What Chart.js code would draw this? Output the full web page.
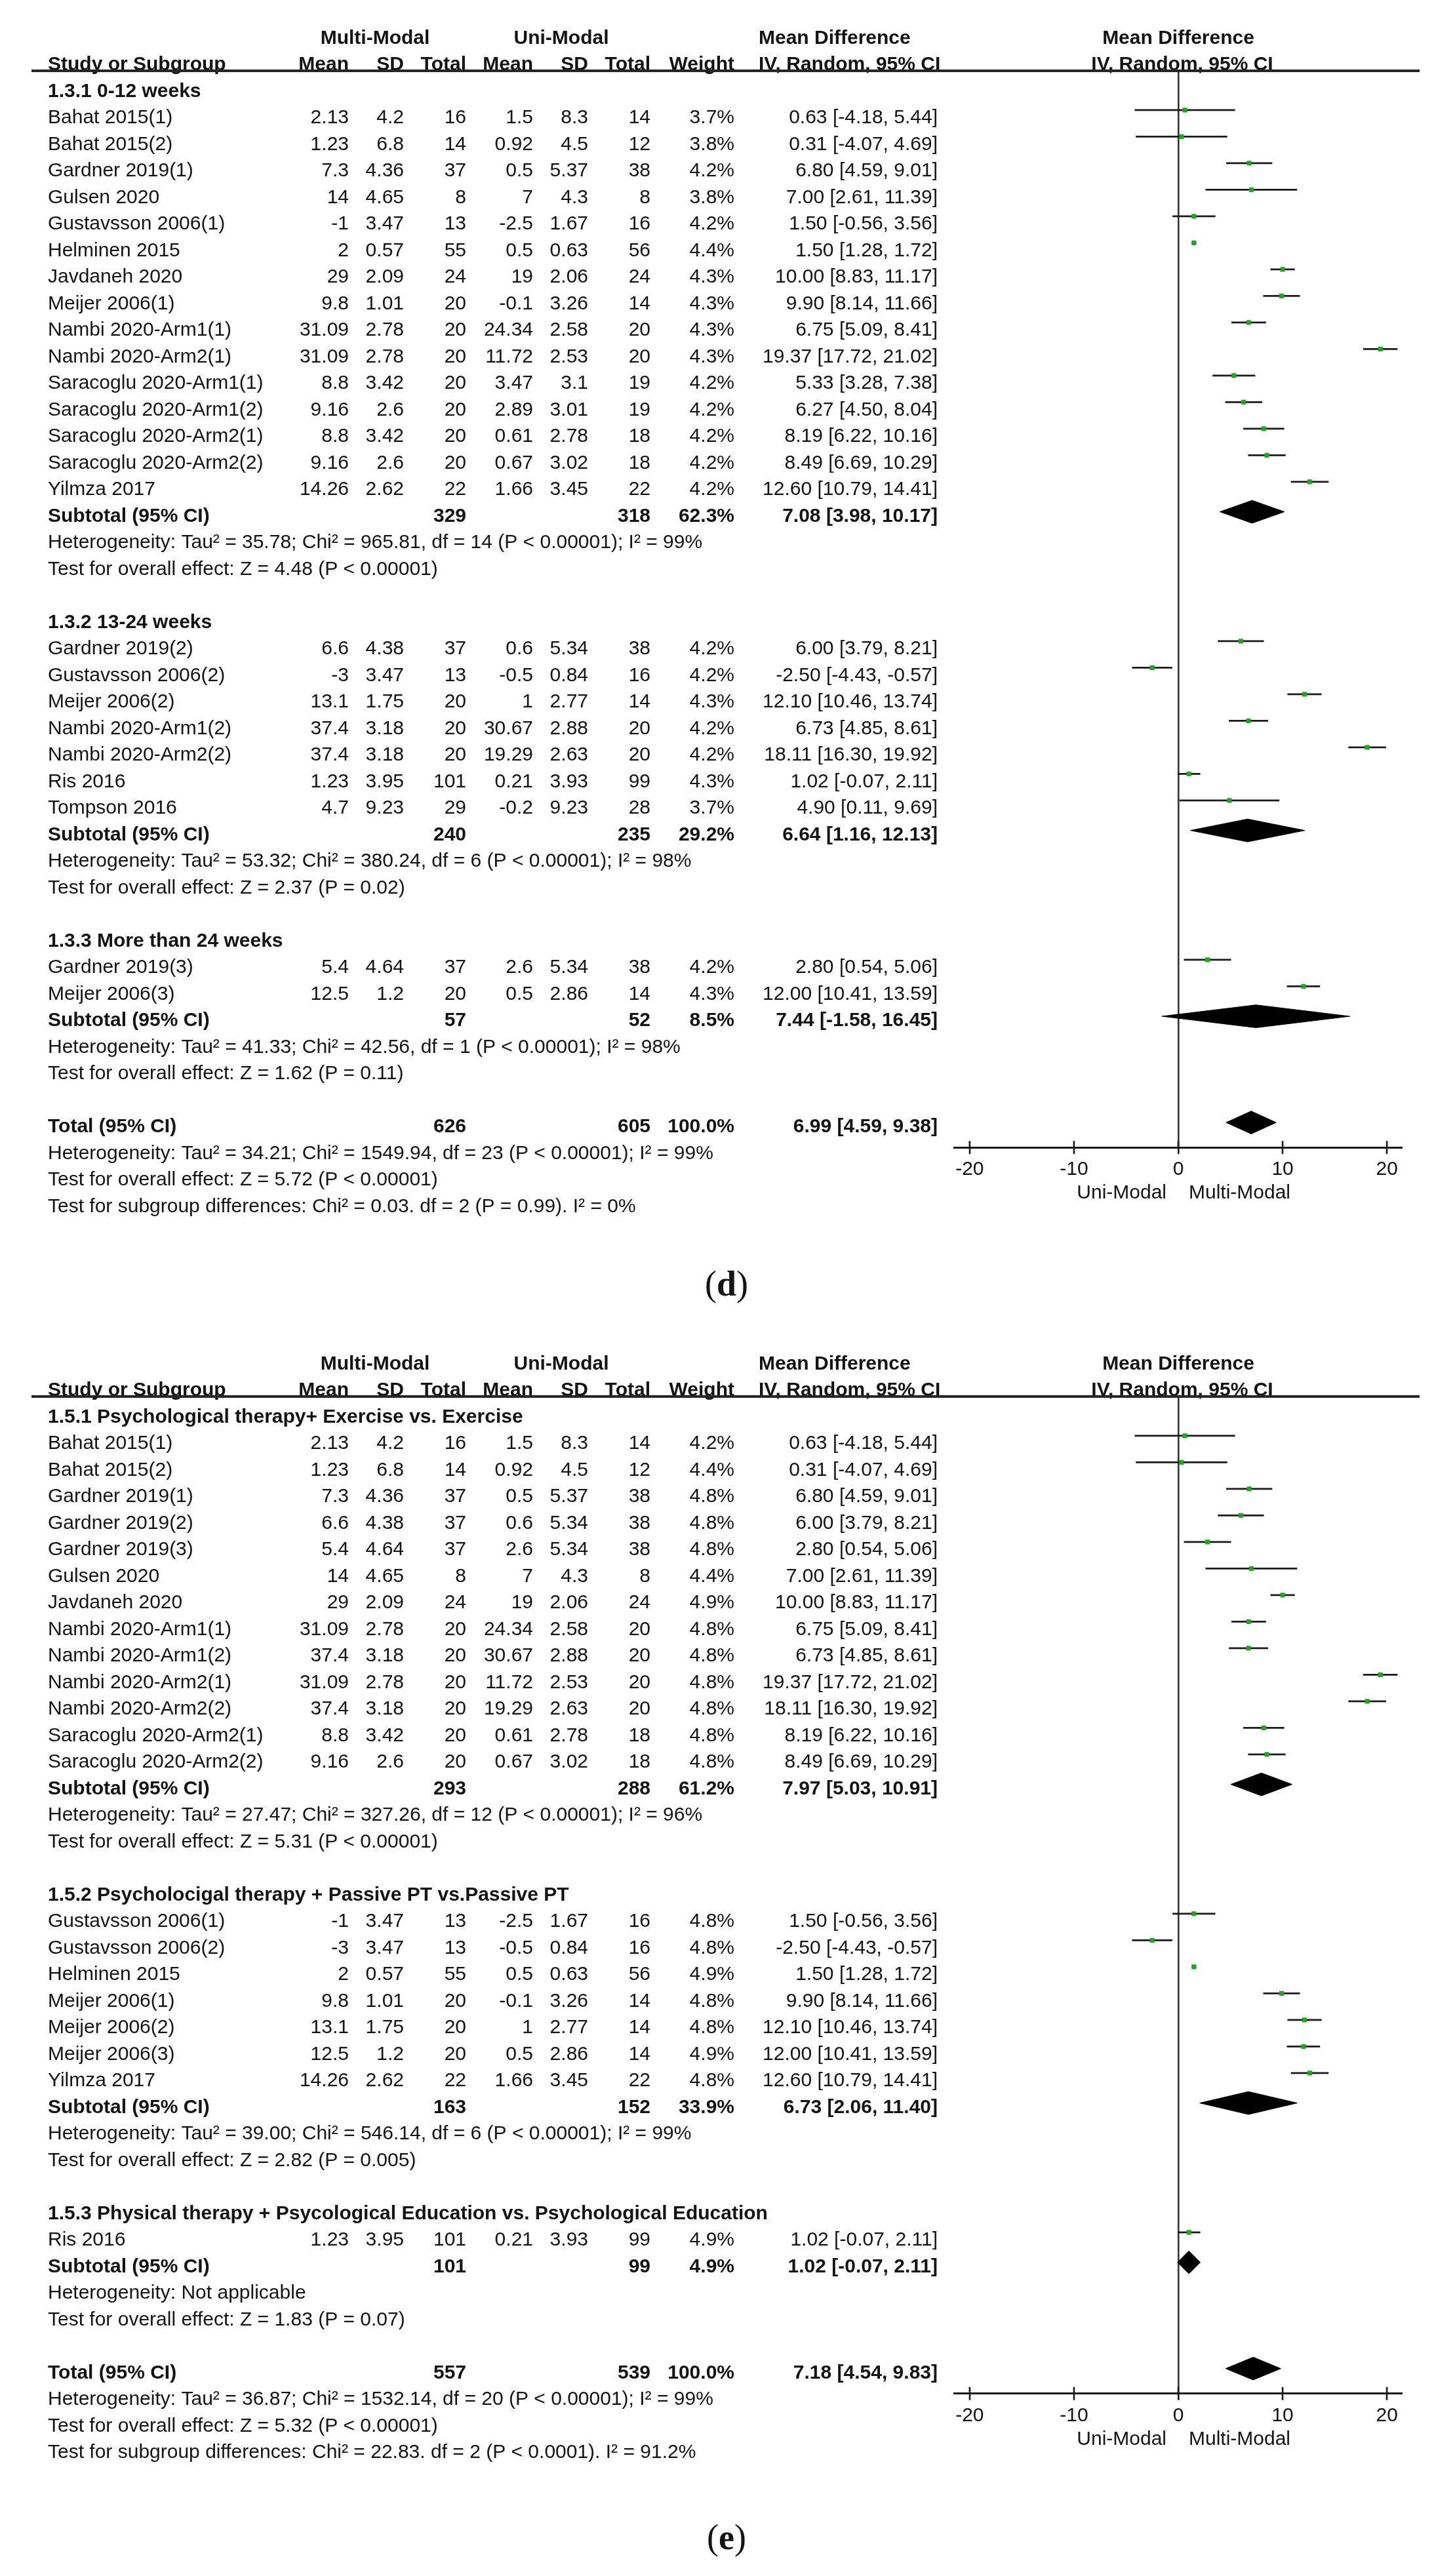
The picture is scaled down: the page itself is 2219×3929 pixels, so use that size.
<!DOCTYPE html>
<html><head><meta charset="utf-8">
<script src="https://cdn.jsdelivr.net/npm/chart.js@4/dist/chart.umd.min.js"></script>
<style>
html,body{margin:0;padding:0;background:#fff;overflow:hidden;}
#wrap{position:relative;width:2219px;height:3929px;background:#fff;}
canvas{position:absolute;left:0;top:0;}
</style></head><body>
<div id="wrap">
<div style="position:absolute;left:0;top:0;width:2219px;height:2022px"><canvas id="cD" width="2219" height="2022"></canvas></div>
<div style="position:absolute;left:0;top:2022px;width:2219px;height:1907px"><canvas id="cE" width="2219" height="1907"></canvas></div>
</div>
<script>
// ---------------- Panel (d) ----------------
const dGroupTitles = ["1.3.1 0-12 weeks", "1.3.2 13-24 weeks", "1.3.3 More than 24 weeks"];
const dGroupCounts = [15, 7, 2];
const dStudies = ["Bahat 2015(1)","Bahat 2015(2)","Gardner 2019(1)","Gulsen 2020","Gustavsson 2006(1)","Helminen 2015","Javdaneh 2020","Meijer 2006(1)","Nambi 2020-Arm1(1)","Nambi 2020-Arm2(1)","Saracoglu 2020-Arm1(1)","Saracoglu 2020-Arm1(2)","Saracoglu 2020-Arm2(1)","Saracoglu 2020-Arm2(2)","Yilmza 2017",
  "Gardner 2019(2)","Gustavsson 2006(2)","Meijer 2006(2)","Nambi 2020-Arm1(2)","Nambi 2020-Arm2(2)","Ris 2016","Tompson 2016",
  "Gardner 2019(3)","Meijer 2006(3)"];
const dMeanMulti = [2.13,1.23,7.3,14,-1,2,29,9.8,31.09,31.09,8.8,9.16,8.8,9.16,14.26, 6.6,-3,13.1,37.4,37.4,1.23,4.7, 5.4,12.5];
const dSdMulti = [4.2,6.8,4.36,4.65,3.47,0.57,2.09,1.01,2.78,2.78,3.42,2.6,3.42,2.6,2.62, 4.38,3.47,1.75,3.18,3.18,3.95,9.23, 4.64,1.2];
const dNMulti = [16,14,37,8,13,55,24,20,20,20,20,20,20,20,22, 37,13,20,20,20,101,29, 37,20];
const dMeanUni = [1.5,0.92,0.5,7,-2.5,0.5,19,-0.1,24.34,11.72,3.47,2.89,0.61,0.67,1.66, 0.6,-0.5,1,30.67,19.29,0.21,-0.2, 2.6,0.5];
const dSdUni = [8.3,4.5,5.37,4.3,1.67,0.63,2.06,3.26,2.58,2.53,3.1,3.01,2.78,3.02,3.45, 5.34,0.84,2.77,2.88,2.63,3.93,9.23, 5.34,2.86];
const dNUni = [14,12,38,8,16,56,24,14,20,20,19,19,18,18,22, 38,16,14,20,20,99,28, 38,14];
const dWeight = [3.7,3.8,4.2,3.8,4.2,4.4,4.3,4.3,4.3,4.3,4.2,4.2,4.2,4.2,4.2, 4.2,4.2,4.3,4.2,4.2,4.3,3.7, 4.2,4.3];
const dMD = [0.63,0.31,6.80,7.00,1.50,1.50,10.00,9.90,6.75,19.37,5.33,6.27,8.19,8.49,12.60, 6.00,-2.50,12.10,6.73,18.11,1.02,4.90, 2.80,12.00];
const dLo = [-4.18,-4.07,4.59,2.61,-0.56,1.28,8.83,8.14,5.09,17.72,3.28,4.50,6.22,6.69,10.79, 3.79,-4.43,10.46,4.85,16.30,-0.07,0.11, 0.54,10.41];
const dHi = [5.44,4.69,9.01,11.39,3.56,1.72,11.17,11.66,8.41,21.02,7.38,8.04,10.16,10.29,14.41, 8.21,-0.57,13.74,8.61,19.92,2.11,9.69, 5.06,13.59];
const dSubNMulti = [329, 240, 57];
const dSubNUni = [318, 235, 52];
const dSubWeight = [62.3, 29.2, 8.5];
const dSubMD = [7.08, 6.64, 7.44];
const dSubLo = [3.98, 1.16, -1.58];
const dSubHi = [10.17, 12.13, 16.45];
const dHet = ["Heterogeneity: Tau² = 35.78; Chi² = 965.81, df = 14 (P < 0.00001); I² = 99%",
  "Heterogeneity: Tau² = 53.32; Chi² = 380.24, df = 6 (P < 0.00001); I² = 98%",
  "Heterogeneity: Tau² = 41.33; Chi² = 42.56, df = 1 (P < 0.00001); I² = 98%"];
const dEffect = ["Test for overall effect: Z = 4.48 (P < 0.00001)",
  "Test for overall effect: Z = 2.37 (P = 0.02)",
  "Test for overall effect: Z = 1.62 (P = 0.11)"];
const dTotalN = [626, 605];
const dTotalMD = [6.99, 4.59, 9.38];
const dFooter = ["Heterogeneity: Tau² = 34.21; Chi² = 1549.94, df = 23 (P < 0.00001); I² = 99%",
  "Test for overall effect: Z = 5.72 (P < 0.00001)",
  "Test for subgroup differences: Chi² = 0.03. df = 2 (P = 0.99). I² = 0%"];

// ---------------- Panel (e) ----------------
const eGroupTitles = ["1.5.1 Psychological therapy+ Exercise vs. Exercise",
  "1.5.2 Psycholocigal therapy + Passive PT vs.Passive PT",
  "1.5.3 Physical therapy + Psycological Education vs. Psychological Education"];
const eGroupCounts = [13, 7, 1];
const eStudies = ["Bahat 2015(1)","Bahat 2015(2)","Gardner 2019(1)","Gardner 2019(2)","Gardner 2019(3)","Gulsen 2020","Javdaneh 2020","Nambi 2020-Arm1(1)","Nambi 2020-Arm1(2)","Nambi 2020-Arm2(1)","Nambi 2020-Arm2(2)","Saracoglu 2020-Arm2(1)","Saracoglu 2020-Arm2(2)",
  "Gustavsson 2006(1)","Gustavsson 2006(2)","Helminen 2015","Meijer 2006(1)","Meijer 2006(2)","Meijer 2006(3)","Yilmza 2017",
  "Ris 2016"];
const eMeanMulti = [2.13,1.23,7.3,6.6,5.4,14,29,31.09,37.4,31.09,37.4,8.8,9.16, -1,-3,2,9.8,13.1,12.5,14.26, 1.23];
const eSdMulti = [4.2,6.8,4.36,4.38,4.64,4.65,2.09,2.78,3.18,2.78,3.18,3.42,2.6, 3.47,3.47,0.57,1.01,1.75,1.2,2.62, 3.95];
const eNMulti = [16,14,37,37,37,8,24,20,20,20,20,20,20, 13,13,55,20,20,20,22, 101];
const eMeanUni = [1.5,0.92,0.5,0.6,2.6,7,19,24.34,30.67,11.72,19.29,0.61,0.67, -2.5,-0.5,0.5,-0.1,1,0.5,1.66, 0.21];
const eSdUni = [8.3,4.5,5.37,5.34,5.34,4.3,2.06,2.58,2.88,2.53,2.63,2.78,3.02, 1.67,0.84,0.63,3.26,2.77,2.86,3.45, 3.93];
const eNUni = [14,12,38,38,38,8,24,20,20,20,20,18,18, 16,16,56,14,14,14,22, 99];
const eWeight = [4.2,4.4,4.8,4.8,4.8,4.4,4.9,4.8,4.8,4.8,4.8,4.8,4.8, 4.8,4.8,4.9,4.8,4.8,4.9,4.8, 4.9];
const eMD = [0.63,0.31,6.80,6.00,2.80,7.00,10.00,6.75,6.73,19.37,18.11,8.19,8.49, 1.50,-2.50,1.50,9.90,12.10,12.00,12.60, 1.02];
const eLo = [-4.18,-4.07,4.59,3.79,0.54,2.61,8.83,5.09,4.85,17.72,16.30,6.22,6.69, -0.56,-4.43,1.28,8.14,10.46,10.41,10.79, -0.07];
const eHi = [5.44,4.69,9.01,8.21,5.06,11.39,11.17,8.41,8.61,21.02,19.92,10.16,10.29, 3.56,-0.57,1.72,11.66,13.74,13.59,14.41, 2.11];
const eSubNMulti = [293, 163, 101];
const eSubNUni = [288, 152, 99];
const eSubWeight = [61.2, 33.9, 4.9];
const eSubMD = [7.97, 6.73, 1.02];
const eSubLo = [5.03, 2.06, -0.07];
const eSubHi = [10.91, 11.40, 2.11];
const eHet = ["Heterogeneity: Tau² = 27.47; Chi² = 327.26, df = 12 (P < 0.00001); I² = 96%",
  "Heterogeneity: Tau² = 39.00; Chi² = 546.14, df = 6 (P < 0.00001); I² = 99%",
  "Heterogeneity: Not applicable"];
const eEffect = ["Test for overall effect: Z = 5.31 (P < 0.00001)",
  "Test for overall effect: Z = 2.82 (P = 0.005)",
  "Test for overall effect: Z = 1.83 (P = 0.07)"];
const eTotalN = [557, 539];
const eTotalMD = [7.18, 4.54, 9.83];
const eFooter = ["Heterogeneity: Tau² = 36.87; Chi² = 1532.14, df = 20 (P < 0.00001); I² = 99%",
  "Test for overall effect: Z = 5.32 (P < 0.00001)",
  "Test for subgroup differences: Chi² = 22.83. df = 2 (P < 0.0001). I² = 91.2%"];

// shared axis / header labels
const xTicks = [-20, -10, 0, 10, 20];
const favoursLeft = "Uni-Modal";
const favoursRight = "Multi-Modal";
const groupHeaders = ["Multi-Modal", "Uni-Modal"];
const colHeaders = ["Mean", "SD", "Total", "Mean", "SD", "Total", "Weight"];

// ---------------- layout / drawing ----------------
const ROW_PX = 40.5;
const FONT = '"Liberation Sans", Arial, sans-serif';
const TXT = '#141414';
const COLS = {name: 73, meanM: 532, sdM: 616, nM: 711, meanU: 813, sdU: 897, nU: 992, w: 1120, md: 1430, mdHead: 1157};

function fmtCI(m, lo, hi) { return m.toFixed(2) + ' [' + lo.toFixed(2) + ', ' + hi.toFixed(2) + ']'; }

function layoutRows(P) {
  const items = [];
  const studyRows = [], subRows = [];
  let r = 2, s = 0;
  P.groupTitles.forEach((t, g) => {
    items.push({row: r++, kind: 'title', text: t});
    for (let k = 0; k < P.groupCounts[g]; k++) { studyRows.push(r); items.push({row: r++, kind: 'study', i: s++}); }
    subRows.push(r); items.push({row: r++, kind: 'sub', g});
    items.push({row: r++, kind: 'note', text: P.het[g]});
    items.push({row: r++, kind: 'note', text: P.effect[g]});
    r++;
  });
  const totalRow = r;
  items.push({row: r++, kind: 'total'});
  P.footer.forEach(t => items.push({row: r++, kind: 'note', text: t}));
  return {items, studyRows, subRows, totalRow};
}

function buildPanel(canvasId, P, letter, letterY) {
  const canvas = document.getElementById(canvasId);
  const H = canvas.height;
  const L = layoutRows(P);
  const TOP = 108;
  const yMin = 3 - (180 - TOP) / ROW_PX;
  const yMax = L.totalRow + 0.77;
  const axisPx = TOP + (yMax - yMin) * ROW_PX;
  const MARK_OFF = 0.3, DIA_OFF = 0.17, DIA_H = 0.43;

  const ciData = [];
  P.md.forEach((m, i) => {
    const y = L.studyRows[i] - MARK_OFF;
    ciData.push({x: P.lo[i], y}, {x: P.hi[i], y}, {x: P.hi[i], y: null});
  });
  const markData = P.md.map((m, i) => ({x: m, y: L.studyRows[i] - MARK_OFF}));

  const datasets = [
    {type: 'line', data: ciData, borderColor: '#1a1a1a', borderWidth: 2.6, pointRadius: 0, fill: false, tension: 0, spanGaps: false, order: 3},
    {type: 'scatter', data: markData, pointStyle: 'rect', pointRadius: 5, backgroundColor: '#22a622', borderWidth: 0, order: 1}
  ];
  const diamond = (m, lo, hi, row) => {
    const y = row - DIA_OFF;
    datasets.push({type: 'line', data: [{x: lo, y}, {x: m, y: y - DIA_H}, {x: hi, y}, {x: m, y: y + DIA_H}, {x: lo, y}],
      fill: 'shape', backgroundColor: '#000', borderColor: '#000', borderWidth: 1, pointRadius: 0, tension: 0, order: 2});
  };
  P.subMD.forEach((m, g) => diamond(m, P.subLo[g], P.subHi[g], L.subRows[g]));
  diamond(P.totalMD[0], P.totalMD[1], P.totalMD[2], L.totalRow);

  const textPlugin = {
    id: 'forestText',
    afterDraw(chart) {
      const ctx = chart.ctx, ys = chart.scales.y, xs = chart.scales.x, ca = chart.chartArea;
      const Y = r => ys.getPixelForValue(r);
      const put = (t, x, y, align, bold) => {
        ctx.font = (bold ? 'bold ' : '') + '30px ' + FONT;
        ctx.textAlign = align; ctx.fillText(t, x, y);
      };
      ctx.save();
      ctx.fillStyle = TXT; ctx.textBaseline = 'middle';
      // header
      const y0 = Y(0), y1 = Y(1);
      put(groupHeaders[0], 572, y0, 'center', true);
      put(groupHeaders[1], 856, y0, 'center', true);
      put('Mean Difference', COLS.mdHead, y0, 'left', true);
      put('Mean Difference', 1797, y0, 'center', true);
      put('Study or Subgroup', COLS.name, y1, 'left', true);
      const hx = [COLS.meanM, COLS.sdM, COLS.nM, COLS.meanU, COLS.sdU, COLS.nU, COLS.w];
      colHeaders.forEach((h, k) => put(h, hx[k], y1, 'right', true));
      put('IV, Random, 95% CI', COLS.mdHead, y1, 'left', true);
      put('IV, Random, 95% CI', 1803, y1, 'center', true);
      // rows
      L.items.forEach(it => {
        const y = Y(it.row);
        if (it.kind === 'title') put(it.text, COLS.name, y, 'left', true);
        else if (it.kind === 'note') put(it.text, COLS.name, y, 'left', false);
        else if (it.kind === 'study') {
          const i = it.i;
          put(P.studies[i], COLS.name, y, 'left', false);
          put(String(P.meanM[i]), COLS.meanM, y, 'right', false);
          put(String(P.sdM[i]), COLS.sdM, y, 'right', false);
          put(String(P.nM[i]), COLS.nM, y, 'right', false);
          put(String(P.meanU[i]), COLS.meanU, y, 'right', false);
          put(String(P.sdU[i]), COLS.sdU, y, 'right', false);
          put(String(P.nU[i]), COLS.nU, y, 'right', false);
          put(P.weight[i].toFixed(1) + '%', COLS.w, y, 'right', false);
          put(fmtCI(P.md[i], P.lo[i], P.hi[i]), COLS.md, y, 'right', false);
        } else if (it.kind === 'sub') {
          const g = it.g;
          put('Subtotal (95% CI)', COLS.name, y, 'left', true);
          put(String(P.subNM[g]), COLS.nM, y, 'right', true);
          put(String(P.subNU[g]), COLS.nU, y, 'right', true);
          put(P.subW[g].toFixed(1) + '%', COLS.w, y, 'right', true);
          put(fmtCI(P.subMD[g], P.subLo[g], P.subHi[g]), COLS.md, y, 'right', true);
        } else if (it.kind === 'total') {
          put('Total (95% CI)', COLS.name, y, 'left', true);
          put(String(P.totalN[0]), COLS.nM, y, 'right', true);
          put(String(P.totalN[1]), COLS.nU, y, 'right', true);
          put('100.0%', COLS.w, y, 'right', true);
          put(fmtCI(P.totalMD[0], P.totalMD[1], P.totalMD[2]), COLS.md, y, 'right', true);
        }
      });
      // header rule
      ctx.strokeStyle = '#262626'; ctx.lineWidth = 4;
      ctx.beginPath(); ctx.moveTo(48, ca.top); ctx.lineTo(2165, ca.top); ctx.stroke();
      // upper halves of axis ticks
      ctx.lineWidth = 2.6; ctx.strokeStyle = '#1a1a1a';
      xs.ticks.forEach(t => { const px = xs.getPixelForValue(t.value); ctx.beginPath(); ctx.moveTo(px, ca.bottom - 10); ctx.lineTo(px, ca.bottom); ctx.stroke(); });
      // favours labels
      const x0 = xs.getPixelForValue(0);
      put(favoursLeft, x0 - 18, ca.bottom + 70, 'right', false);
      put(favoursRight, x0 + 16, ca.bottom + 70, 'left', false);
      // panel letter
      ctx.textAlign = 'left';
      ctx.font = '54px "Liberation Serif", "Times New Roman", serif';
      const wp = ctx.measureText('(').width, wq = ctx.measureText(')').width;
      ctx.font = 'bold 54px "Liberation Serif", "Times New Roman", serif';
      const wl = ctx.measureText(letter).width;
      let lx = 1108 - (wp + wl + wq) / 2;
      ctx.font = '54px "Liberation Serif", "Times New Roman", serif';
      ctx.fillText('(', lx, letterY); lx += wp;
      ctx.font = 'bold 54px "Liberation Serif", "Times New Roman", serif';
      ctx.fillText(letter, lx, letterY); lx += wl;
      ctx.font = '54px "Liberation Serif", "Times New Roman", serif';
      ctx.fillText(')', lx, letterY);
      ctx.restore();
    }
  };

  return new Chart(canvas, {
    type: 'scatter',
    data: {datasets},
    options: {
      responsive: false, animation: false, devicePixelRatio: 1, events: [],
      layout: {padding: {left: 1455, right: 80, top: TOP, bottom: 0}},
      plugins: {legend: {display: false}, tooltip: {enabled: false}},
      scales: {
        x: {
          type: 'linear', min: -21.5, max: 21.5, position: 'bottom',
          afterBuildTicks: s => { s.ticks = xTicks.map(v => ({value: v})); },
          afterFit: s => { s.height = H - axisPx; },
          border: {display: true, color: '#1a1a1a', width: 3},
          grid: {
            drawOnChartArea: true, drawTicks: true, tickLength: 10, tickWidth: 2.6, tickColor: '#1a1a1a',
            color: c => (c.tick && c.tick.value === 0) ? '#333333' : 'rgba(0,0,0,0)',
            lineWidth: c => (c.tick && c.tick.value === 0) ? 2.6 : 0
          },
          ticks: {autoSkip: false, maxRotation: 0, padding: 6, color: TXT, font: {family: FONT, size: 30}, callback: v => String(v)}
        },
        y: {type: 'linear', reverse: true, min: yMin, max: yMax, display: false}
      }
    },
    plugins: [textPlugin]
  });
}

const panelD = {groupTitles: dGroupTitles, groupCounts: dGroupCounts, studies: dStudies, meanM: dMeanMulti, sdM: dSdMulti, nM: dNMulti,
  meanU: dMeanUni, sdU: dSdUni, nU: dNUni, weight: dWeight, md: dMD, lo: dLo, hi: dHi,
  subNM: dSubNMulti, subNU: dSubNUni, subW: dSubWeight, subMD: dSubMD, subLo: dSubLo, subHi: dSubHi,
  het: dHet, effect: dEffect, totalN: dTotalN, totalMD: dTotalMD, footer: dFooter};
const panelE = {groupTitles: eGroupTitles, groupCounts: eGroupCounts, studies: eStudies, meanM: eMeanMulti, sdM: eSdMulti, nM: eNMulti,
  meanU: eMeanUni, sdU: eSdUni, nU: eNUni, weight: eWeight, md: eMD, lo: eLo, hi: eHi,
  subNM: eSubNMulti, subNU: eSubNUni, subW: eSubWeight, subMD: eSubMD, subLo: eSubLo, subHi: eSubHi,
  het: eHet, effect: eEffect, totalN: eTotalN, totalMD: eTotalMD, footer: eFooter};

buildPanel('cD', panelD, 'd', 1962);
buildPanel('cE', panelE, 'e', 1852);
</script>
</body></html>
